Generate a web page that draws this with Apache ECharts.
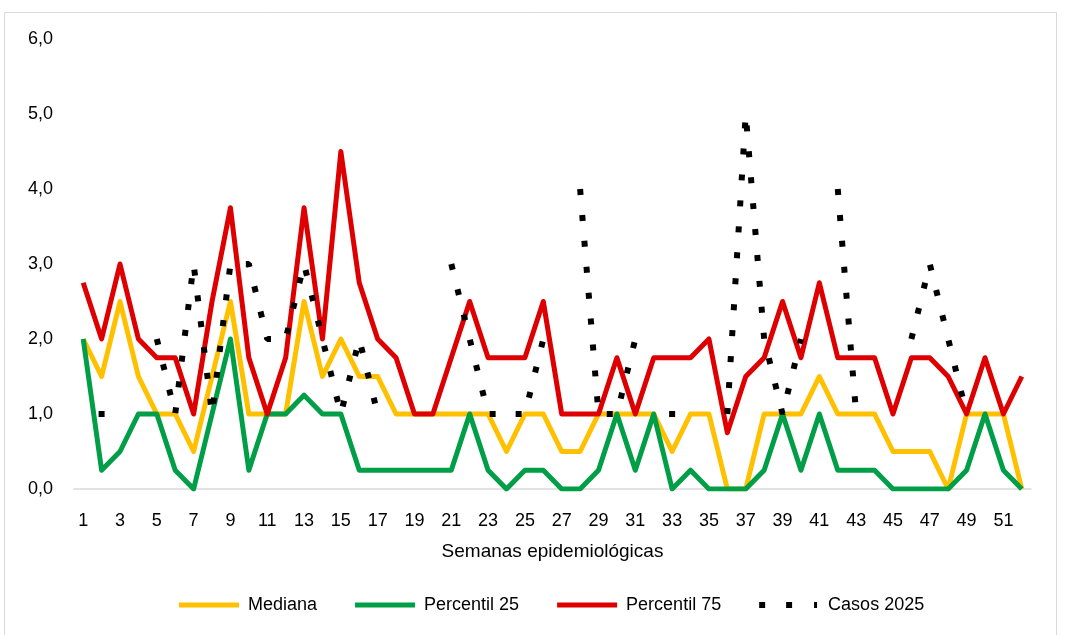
<!DOCTYPE html>
<html>
<head>
<meta charset="utf-8">
<script src="https://cdn.jsdelivr.net/npm/echarts@6/dist/echarts.min.js"></script>
<style>
html,body{margin:0;padding:0;background:#fff;}
#chart{width:1065px;height:635px;}
</style>
</head>
<body>
<div id="chart"></div>
<script>
var weeks = [];
for (var i = 1; i <= 52; i++) weeks.push(String(i));

var mediana = [2,1.5,2.5,1.5,1,1,0.5,1.5,2.5,1,1,1,2.5,1.5,2,1.5,1.5,1,1,1,1,1,1,0.5,1,1,0.5,0.5,1,1,1,1,0.5,1,1,0,0,1,1,1,1.5,1,1,1,0.5,0.5,0.5,0,1,1,1,0];
var percentil25 = [2,0.25,0.5,1,1,0.25,0,1,2,0.25,1,1,1.25,1,1,0.25,0.25,0.25,0.25,0.25,0.25,1,0.25,0,0.25,0.25,0,0,0.25,1,0.25,1,0,0.25,0,0,0,0.25,1,0.25,1,0.25,0.25,0.25,0,0,0,0,0.25,1,0.25,0];
var percentil75 = [2.75,2,3,2,1.75,1.75,1,2.5,3.75,1.75,1,1.75,3.75,2,4.5,2.75,2,1.75,1,1,1.75,2.5,1.75,1.75,1.75,2.5,1,1,1,1.75,1,1.75,1.75,1.75,2,0.75,1.5,1.75,2.5,1.75,2.75,1.75,1.75,1.75,1,1.75,1.75,1.5,1,1.75,1,1.5];
var casos2025 = [null,1,null,null,2,1,3,1,3,3,2,2,3,2,1,2,1,null,null,null,3,2,1,1,1,2,null,4,1,1,2,null,1,null,null,1,5,2,1,2,null,4,1,null,null,2,3,2,1,null,null,null];
var yTicks = [0,1,2,3,4,5,6];

var FONT = "'Liberation Sans',Arial,sans-serif";

var casosData = casos2025.map(function (v, i) {
  var prev = i > 0 ? casos2025[i - 1] : null;
  var next = i < casos2025.length - 1 ? casos2025[i + 1] : null;
  if (v !== null && prev === null && next === null) {
    return { value: v, symbol: 'rect', symbolSize: 6, itemStyle: { color: '#000' } };
  }
  return v;
});

var chart = echarts.init(document.getElementById('chart'), null, { renderer: 'canvas' });
var option = {
  backgroundColor: '#fff',
  animation: false,
  graphic: [{
    type: 'rect', silent: true, z: -10,
    shape: { x: 4.5, y: 12.5, width: 1052, height: 640 },
    style: { fill: 'none', stroke: '#D9D9D9', lineWidth: 1 }
  }],
  grid: { left: 74, right: 34, top: 39, bottom: 146, containLabel: false },
  legend: {
    left: 174, top: 591,
    itemWidth: 60, itemHeight: 6, itemGap: 38,
    textStyle: { fontFamily: FONT, fontSize: 18, color: '#000', padding: [0, 0, 0, 4] },
    data: [
      { name: 'Mediana', icon: 'path://M0,0.5h60v5h-60z', itemStyle: { color: '#FFC000' } },
      { name: 'Percentil 25', icon: 'path://M0,0.5h60v5h-60z', itemStyle: { color: '#009E47' } },
      { name: 'Percentil 75', icon: 'path://M0,0.5h60v5h-60z', itemStyle: { color: '#DE0000' } },
      { name: 'Casos 2025', icon: 'path://M0,0h6v6h-6z M27,0h6v6h-6z M55,0h3v6h-3z M0,0h0.01v0.01h-0.01z M60,6h0.01v0.01h-0.01z', itemStyle: { color: '#000' } }
    ]
  },
  xAxis: {
    type: 'category',
    data: weeks,
    boundaryGap: true,
    name: 'Semanas epidemiológicas',
    nameLocation: 'middle',
    nameGap: 53,
    nameTextStyle: { fontFamily: FONT, fontSize: 19, color: '#000' },
    axisLine: { lineStyle: { color: '#D9D9D9', width: 1.5 } },
    axisTick: { show: false },
    axisLabel: { interval: 1, margin: 23, fontFamily: FONT, fontSize: 18, color: '#000' },
    splitLine: { show: false }
  },
  yAxis: {
    type: 'value',
    min: yTicks[0], max: yTicks[yTicks.length - 1], interval: 1,
    axisLine: { show: false },
    axisTick: { show: false },
    splitLine: { show: false },
    axisLabel: {
      margin: 21, fontFamily: FONT, fontSize: 18, color: '#000',
      formatter: function (v) { return v.toFixed(1).replace('.', ','); }
    }
  },
  series: [
    { name: 'Mediana', type: 'line', data: mediana, symbol: 'none', color: '#FFC000',
      lineStyle: { color: '#FFC000', width: 5, join: 'round' }, z: 2 },
    { name: 'Percentil 25', type: 'line', data: percentil25, symbol: 'none', color: '#009E47',
      lineStyle: { color: '#009E47', width: 5, join: 'round' }, z: 3 },
    { name: 'Percentil 75', type: 'line', data: percentil75, symbol: 'none', color: '#DE0000',
      lineStyle: { color: '#DE0000', width: 5, join: 'round' }, z: 4 },
    { name: 'Casos 2025', type: 'line', data: casosData, symbol: 'none', showSymbol: true,
      color: '#000', connectNulls: false,
      lineStyle: { color: '#000', width: 6, type: [6, 20], cap: 'butt' }, z: 5 }
  ]
};
chart.setOption(option);
</script>
</body>
</html>
